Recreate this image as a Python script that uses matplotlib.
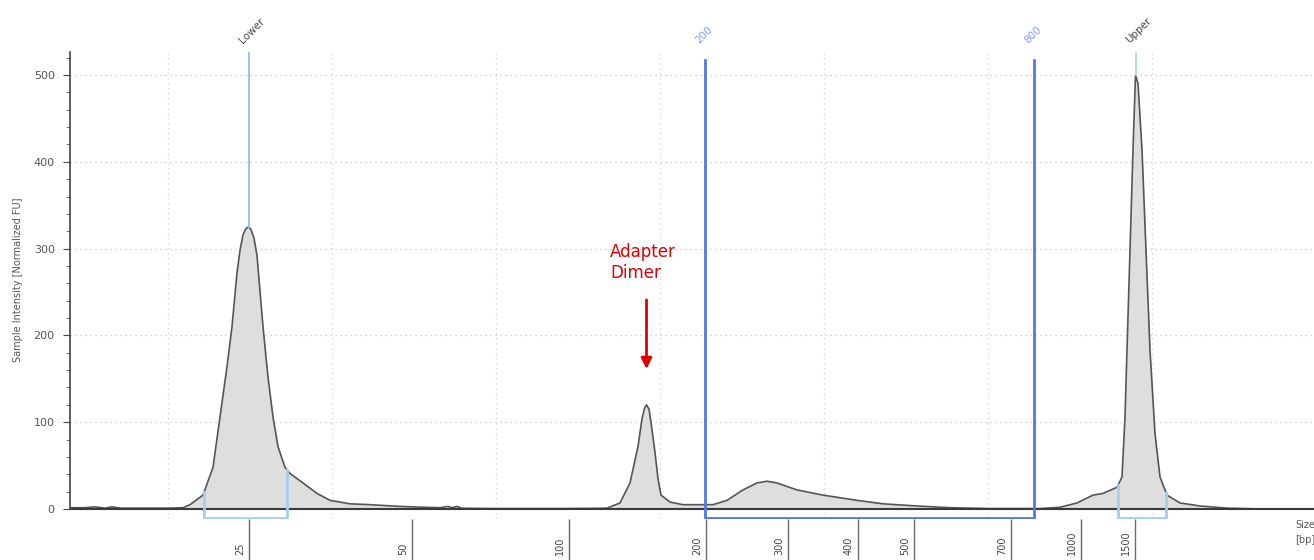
import numpy as np
import matplotlib
matplotlib.use("Agg")
import matplotlib.pyplot as plt

# electropherogram trace: run position (arbitrary units) vs intensity [FU]
trace_t = [0.0, 1.5, 2.5, 3.5, 4.2, 5.0, 8.0, 10.0, 11.3, 12.0, 13.3, 14.3, 15.0,
           15.7, 16.2, 16.7, 17.0, 17.3, 17.6, 17.85, 18.1, 18.4, 18.7, 19.3,
           19.8, 20.3, 20.8, 21.5, 22.0, 23.3, 24.7, 26.0, 28.0, 30.0, 33.0,
           34.7, 37.0, 37.8, 38.2, 38.7, 39.2, 43.0, 49.0, 53.0, 53.7, 55.0,
           56.0, 56.8, 57.2, 57.45, 57.65, 57.9, 58.1, 58.5, 58.8, 59.1, 60.0,
           61.3, 64.3, 65.7, 67.3, 68.7, 69.7, 70.7, 72.7, 75.3, 78.7, 81.3,
           84.7, 88.0, 92.0, 97.0, 99.0, 100.7, 102.3, 103.3, 104.7, 105.2,
           105.5, 105.7, 106.0, 106.3, 106.55, 106.8, 107.2, 107.6, 108.0,
           108.5, 109.0, 109.7, 111.0, 113.0, 115.7, 119.3]
trace_fu = [1.5, 1.5, 2.5, 1.0, 2.5, 1.0, 1.0, 1.0, 1.5, 5.0, 16.0, 48.0, 106.0,
            164.0, 210.0, 272.0, 298.0, 316.0, 323.0, 325.0, 322.0, 312.0,
            292.0, 210.0, 152.0, 106.0, 72.0, 48.0, 41.0, 30.0, 18.0, 10.0,
            6.0, 5.0, 3.0, 2.3, 1.5, 3.0, 1.5, 3.0, 0.8, 0.5, 0.5, 0.8, 1.0,
            7.0, 30.0, 72.0, 104.0, 116.0, 120.0, 115.0, 100.0, 65.0, 35.0,
            16.0, 8.0, 5.0, 5.0, 10.0, 22.0, 30.0, 32.0, 30.0, 22.0, 16.0,
            10.0, 6.0, 3.5, 1.5, 0.5, 0.5, 2.0, 7.0, 16.0, 18.0, 25.0, 37.0,
            106.0, 183.0, 298.0, 414.0, 500.0, 490.0, 414.0, 298.0, 183.0,
            87.0, 37.0, 16.0, 7.0, 3.5, 1.0, 0.0]

# sizing ladder
ladder_bp = ["25", "50", "100", "200", "300", "400", "500", "700", "1000", "1500"]
ladder_t = [17.9, 34.2, 49.9, 63.6, 71.8, 78.8, 84.4, 94.1, 101.1, 106.5]

# markers and region
lower_t, upper_t = 17.85, 106.55
region_t = [63.5, 96.4]
region_lbl = ["200", "800"]
lower_win = [13.4, 21.7]
upper_win = [104.8, 109.6]
grid_t = [9.8, 26.2, 42.6, 59.0, 75.4, 91.8, 108.2, 124.6]

dimer_t = 57.65

fig = plt.figure(figsize=(13.14, 5.6), dpi=100)
ax = fig.add_axes([70 / 1314, 41 / 560, 1244 / 1314, 467 / 560])
ax.set_xlim(0, 124.4)
ax.set_ylim(-11.5, 526.5)

# grid
for g in grid_t:
    ax.axvline(g, color="#d4d4d4", lw=0.9, ls=(0, (1, 3)), zorder=0)
for yy in [100, 200, 300, 400, 500]:
    ax.axhline(yy, color="#c4c4c4", lw=0.9, ls=(0, (1, 3)), zorder=0)

# trace
ax.fill_between(trace_t, 0, trace_fu, color="#dedede", lw=0, zorder=2)
ax.plot(trace_t, trace_fu, color="#555555", lw=1.2, zorder=3,
        solid_joinstyle="round")
ax.axhline(0, color="#3a3a3a", lw=1.5, zorder=3)

# marker lines
lc = "#8cc0f0"
ax.plot([lower_t, lower_t], [325, 526.5], color=lc, lw=1.3, zorder=4)
ax.plot([upper_t, upper_t], [500, 526.5], color="#b0d4f5", lw=1.3, zorder=4)

# marker integration windows
bc = "#a9cdf2"
for w in (lower_win, upper_win):
    y0 = np.interp(w[0], trace_t, trace_fu)
    y1 = np.interp(w[1], trace_t, trace_fu)
    ax.plot([w[0], w[0], w[1], w[1]], [y0, -10.4, -10.4, y1], color=bc, lw=2,
            zorder=4, solid_joinstyle="round")

# region 200-800 bp
rc = "#5577e0"
ax.plot([region_t[0], region_t[0], region_t[1], region_t[1]],
        [517, -10.4, -10.4, 517], color=rc, lw=2, zorder=4)

# top labels
for t, s, c in [(lower_t, "Lower", "#444444"), (region_t[0], region_lbl[0], "#7f9cf0"),
                (region_t[1], region_lbl[1], "#7f9cf0"), (upper_t, "Upper", "#444444")]:
    ax.annotate(s, xy=(t, 1.0), xycoords=("data", "axes fraction"),
                xytext=(-3, 5), textcoords="offset points", rotation=45,
                rotation_mode="anchor", ha="left", va="bottom", fontsize=7.5,
                color=c, annotation_clip=False)

# axes styling
for sp in ["top", "right", "bottom"]:
    ax.spines[sp].set_visible(False)
ax.spines["left"].set_bounds(0, 526.5)
ax.spines["left"].set_color("#444444")
ax.spines["left"].set_linewidth(1.2)
ax.set_yticks([0, 100, 200, 300, 400, 500])
ax.set_yticks(np.arange(0, 521, 20), minor=True)
ax.tick_params(axis="y", which="major", length=5, color="#444444",
               labelsize=8, labelcolor="#555555", pad=6)
ax.tick_params(axis="y", which="minor", length=3, color="#555555")

ax.set_xticks(ladder_t)
ax.tick_params(axis="x", length=30, width=1, color="#6a6a6a", labelbottom=False)
for t, s in zip(ladder_t, ladder_bp):
    ax.annotate(s, xy=(t, -0.077), xycoords=("data", "axes fraction"),
                xytext=(-3, 0), textcoords="offset points", rotation=90,
                ha="right", va="bottom", fontsize=7, color="#444444",
                annotation_clip=False)

fig.text(18 / 1314, 1 - 280 / 560, "Sample Intensity [Normalized FU]", rotation=90,
         ha="center", va="center", fontsize=7, color="#555555")
fig.text(1295 / 1314, 1 - 520 / 560, "Size\n[bp]", ha="left", va="top",
         fontsize=7, color="#555555", linespacing=1.6)

# adapter dimer callout
ax.text(54.0, 306.5, "Adapter\nDimer", color="#e00000", fontsize=12,
        ha="left", va="top", linespacing=1.25, zorder=5)
ax.annotate("", xy=(dimer_t, 158), xytext=(dimer_t, 244),
            arrowprops=dict(arrowstyle="-|>", color="#e00000", lw=2,
                            mutation_scale=16), zorder=5)

fig.savefig("out.png", dpi=100)
